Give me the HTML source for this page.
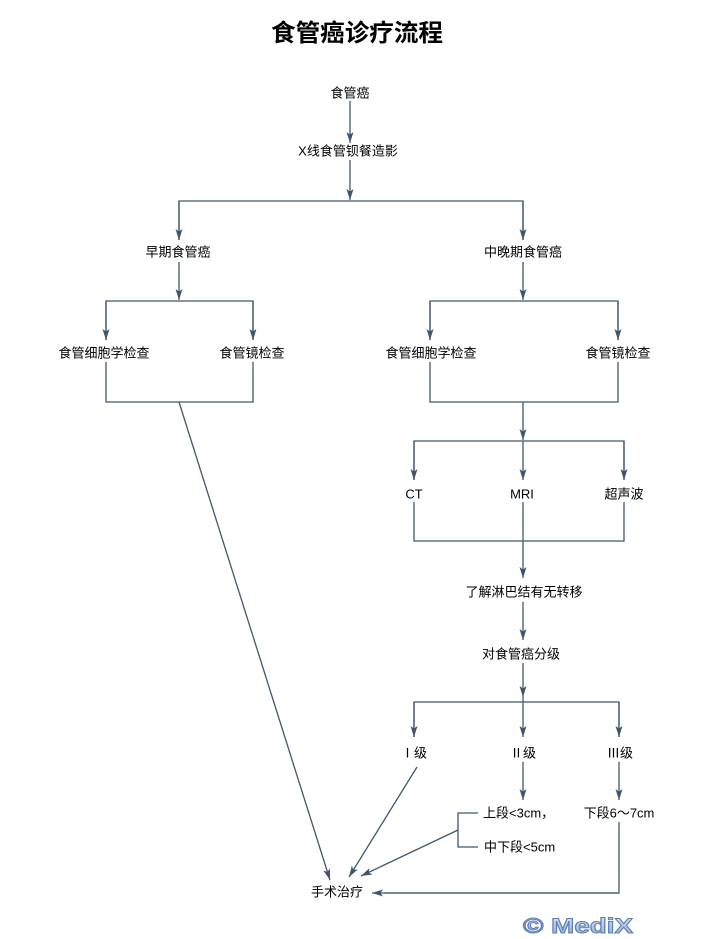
<!DOCTYPE html>
<html><head><meta charset="utf-8"><style>
html,body{margin:0;padding:0;background:#fff;}
svg{display:block;}
text{font-family:"Liberation Sans","Noto Sans CJK SC",sans-serif;fill:#000;}
</style></head><body>
<svg width="724" height="939" viewBox="0 0 724 939" xmlns="http://www.w3.org/2000/svg">
<defs>
<marker id="a" markerUnits="userSpaceOnUse" markerWidth="12" markerHeight="8" viewBox="0 0 12 8" refX="11" refY="4" orient="auto">
<path d="M0,0.5 L11,4 L0,7.5 L2.5,4 Z" fill="#3d566d"/>
</marker>
<linearGradient id="g" x1="0" y1="0" x2="0" y2="1">
<stop offset="0" stop-color="#dfe8f6"/><stop offset="1" stop-color="#8ea8d2"/>
</linearGradient>
</defs>
<text x="357" y="41" font-size="24" font-weight="bold" text-anchor="middle" textLength="172" lengthAdjust="spacingAndGlyphs">食管癌诊疗流程</text>

<g stroke="#40586e" stroke-width="1.3" fill="none">
<line x1="350" y1="101" x2="350" y2="143" marker-end="url(#a)"/>
<line x1="350" y1="160" x2="350" y2="200" marker-end="url(#a)"/>
<polyline points="179,240 179,201 523,201 523,240"/>
<line x1="179" y1="201" x2="179" y2="240" marker-end="url(#a)"/>
<line x1="523" y1="201" x2="523" y2="240" marker-end="url(#a)"/>

<line x1="179" y1="262" x2="179" y2="300" marker-end="url(#a)"/>
<polyline points="106,340 106,301 253,301 253,340"/>
<line x1="106" y1="301" x2="106" y2="340" marker-end="url(#a)"/>
<line x1="253" y1="301" x2="253" y2="340" marker-end="url(#a)"/>
<polyline points="106,362 106,402 253,402 253,362"/>
<line x1="179" y1="402" x2="330" y2="880" marker-end="url(#a)"/>

<line x1="523" y1="262" x2="523" y2="300" marker-end="url(#a)"/>
<polyline points="430,340 430,301 618,301 618,340"/>
<line x1="430" y1="301" x2="430" y2="340" marker-end="url(#a)"/>
<line x1="618" y1="301" x2="618" y2="340" marker-end="url(#a)"/>
<polyline points="430,362 430,402 618,402 618,362"/>
<line x1="523" y1="402" x2="523" y2="440" marker-end="url(#a)"/>
<polyline points="414,480 414,441 624,441 624,480"/>
<line x1="414" y1="441" x2="414" y2="480" marker-end="url(#a)"/>
<line x1="523" y1="441" x2="523" y2="480" marker-end="url(#a)"/>
<line x1="624" y1="441" x2="624" y2="480" marker-end="url(#a)"/>
<polyline points="414,502 414,541 624,541 624,502"/>
<line x1="523" y1="502" x2="523" y2="578" marker-end="url(#a)"/>
<line x1="523" y1="602" x2="523" y2="640" marker-end="url(#a)"/>
<line x1="523" y1="663" x2="523" y2="697" marker-end="url(#a)"/>
<polyline points="414,737 414,702 619,702 619,737"/>
<line x1="523" y1="697" x2="523" y2="702"/>
<line x1="414" y1="702" x2="414" y2="737" marker-end="url(#a)"/>
<line x1="523" y1="702" x2="523" y2="737" marker-end="url(#a)"/>
<line x1="619" y1="702" x2="619" y2="737" marker-end="url(#a)"/>

<line x1="417" y1="767" x2="349" y2="877" marker-end="url(#a)"/>
<line x1="523" y1="762" x2="523" y2="800" marker-end="url(#a)"/>
<line x1="619" y1="762" x2="619" y2="800" marker-end="url(#a)"/>
<polyline points="478,813 458,813 458,847 478,847"/>
<line x1="458" y1="830" x2="361" y2="876" marker-end="url(#a)"/>
<polyline points="619,822 619,893 384,893"/>
<line x1="619" y1="893" x2="372" y2="893" marker-end="url(#a)"/>
</g>

<g font-size="13" text-anchor="middle" dominant-baseline="central">
<text x="350" y="93">食管癌</text>
<text x="348" y="151">X线食管钡餐造影</text>
<text x="178" y="252">早期食管癌</text>
<text x="523" y="252">中晚期食管癌</text>
<text x="104" y="353">食管细胞学检查</text>
<text x="252" y="353">食管镜检查</text>
<text x="431" y="353">食管细胞学检查</text>
<text x="618" y="353">食管镜检查</text>
<text x="414" y="494">CT</text>
<text x="522" y="494">MRI</text>
<text x="624" y="494">超声波</text>
<text x="524" y="592">了解淋巴结有无转移</text>
<text x="521" y="654">对食管癌分级</text>
<text x="414" y="753">Ⅰ级</text>
<text x="523" y="753">Ⅱ级</text>
<text x="620" y="753">Ⅲ级</text>
<text x="619" y="813">下段6～7cm</text>
<text x="337" y="892">手术治疗</text>
</g>
<g font-size="13" dominant-baseline="central">
<text x="483" y="813">上段&lt;3cm，</text>
<text x="484" y="847">中下段&lt;5cm</text>
</g>
<text x="523" y="933" font-size="21" font-weight="bold" textLength="110" lengthAdjust="spacingAndGlyphs" fill="url(#g)" stroke="#5d7fb4" stroke-width="1" style="fill:url(#g)">© MediX</text>
</svg>
</body></html>
